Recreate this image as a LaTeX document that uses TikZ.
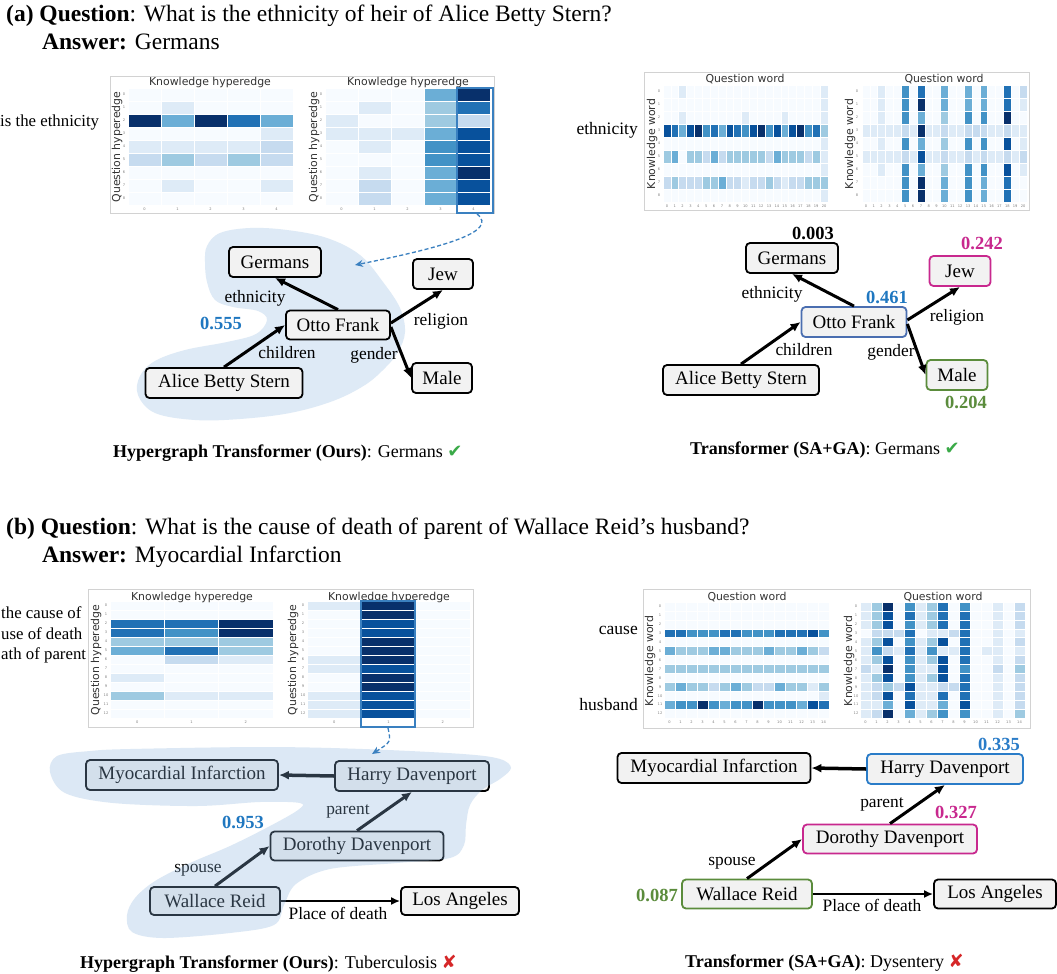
\documentclass[tikz,border=0pt]{standalone}
\usepackage{fontspec}
\setmainfont{Liberation Serif}
\newfontfamily\dvs{DejaVu Sans}
\usetikzlibrary{arrows.meta}
\definecolor{hb0}{HTML}{F7FBFF}
\definecolor{hb1}{HTML}{DEEBF7}
\definecolor{hb2}{HTML}{C6DBEF}
\definecolor{hb3}{HTML}{9ECAE1}
\definecolor{hb4}{HTML}{6BAED6}
\definecolor{hb5}{HTML}{4292C6}
\definecolor{hb6}{HTML}{2171B5}
\definecolor{hb7}{HTML}{08519C}
\definecolor{hb8}{HTML}{08306B}
\definecolor{nodefill}{HTML}{F2F2F2}
\definecolor{blobA}{HTML}{DEEAF6}
\definecolor{blobB}{HTML}{8EB6DE}
\definecolor{wblue}{HTML}{1F77C0}
\definecolor{ottoblue}{HTML}{4A6EB0}
\definecolor{harryblue}{HTML}{2A7CC8}
\definecolor{wmag}{HTML}{C8288E}
\definecolor{wgreen}{HTML}{5B8C3C}
\definecolor{hlblue}{HTML}{3A80C0}
\definecolor{chk}{HTML}{3AAA48}
\definecolor{crs}{HTML}{D62728}
\definecolor{axgray}{HTML}{333333}
\newcommand\drawhm[5]{%
  \foreach \hrow [count=\rr from 0] in {#5} {%
    \foreach \hv [count=\cc from 0] in \hrow {%
      \filldraw[fill=hb\hv, draw=white, line width=0.5pt] ({#1+\cc*#3},{#2+\rr*#4}) rectangle ++(#3,#4);
    }%
  }%
}
\begin{document}
\begin{tikzpicture}[x=1pt,y=-1pt,
  kg/.style={draw=black, line width=1.8pt, rounded corners=4pt, fill=nodefill, minimum height=30pt, inner sep=0pt, font=\rmfamily\mdseries\fontsize{19}{22}\selectfont},
  rel/.style={font=\rmfamily\fontsize{17.4}{20}\selectfont, inner sep=0pt},
  wt/.style={font=\rmfamily\bfseries\fontsize{18.5}{21}\selectfont, inner sep=0pt},
  kedge/.style={-{Latex[length=10pt,width=9pt]}, line width=3pt},
  axt/.style={font=\dvs\fontsize{10.9}{12}\selectfont, text=axgray, inner sep=0pt},
  tklab/.style={font=\dvs\fontsize{3.6}{4}\selectfont, text=gray, inner sep=0pt},
  panel/.style={draw=gray!35, line width=0.8pt, fill=white},
  hlbox/.style={draw=hlblue, line width=1.3pt},
  dasharr/.style={hlblue, dash pattern=on 4pt off 2.5pt, line width=1.3pt, -{Stealth[length=8pt,width=7pt]}},
  side/.style={font=\rmfamily\fontsize{17.5}{20}\selectfont, inner sep=0pt, anchor=east},
  sidel/.style={font=\rmfamily\fontsize{16.8}{20}\selectfont, inner sep=0pt, anchor=west},
  ttl/.style={font=\rmfamily\fontsize{23.5}{26}\selectfont, inner sep=0pt, anchor=base west},
  captxt/.style={font=\rmfamily\fontsize{18}{21}\selectfont, inner sep=0pt, anchor=base west}]
\useasboundingbox (0,0) rectangle (1057,974);
\fill[white] (0,0) rectangle (1057,974);

% ---------- titles ----------
\node[ttl] (tA) at (6,22) {\textbf{(a) Question}: What is the ethnicity of heir of Alice Betty Stern?};
\node[ttl] (aA) at (42,50) {\textbf{Answer:} Germans};
\node[ttl] (tB) at (6,534) {\textbf{(b) Question}: What is the cause of death of parent of Wallace Reid’s husband?};
\node[ttl] (aB) at (42,562) {\textbf{Answer:} Myocardial Infarction};

% ---------- side texts ----------
\node[sidel] (sA) at (0,122) {is the ethnicity};
\node[sidel] (sB1) at (1,613) {the cause of};
\node[sidel] (sB2) at (1,634) {use of death};
\node[sidel] (sB3) at (1,655) {ath of parent};
\node[side] (sC) at (638,130) {ethnicity};
\node[side] (sD) at (638,630) {cause};
\node[side] (sE) at (638,705) {husband};

% ---------- panel TL ----------
\draw[panel] (110,76) rectangle (494,213);
\drawhm{128}{88}{33}{13}{{0,0,0,0,0},{0,1,0,0,0},{8,4,8,6,4},{0,0,0,0,1},{1,1,1,1,2},{2,3,2,3,2},{0,0,0,0,0},{0,1,0,0,1},{0,0,0,0,0}}
\drawhm{325}{88}{33}{13}{{0,0,0,4,8},{0,1,0,3,6},{1,0,0,3,2},{1,1,1,4,7},{0,1,0,5,7},{0,0,0,5,7},{0,1,0,4,8},{0,2,0,4,7},{0,2,0,4,7}}
\node[axt] (tlt1) at (210,82) {Knowledge hyperedge};
\node[axt] (tlt2) at (408,82) {Knowledge hyperedge};
\node[axt, rotate=90] (tly1) at (117,147) {Question hyperedge};
\node[axt, rotate=90] (tly2) at (314,147) {Question hyperedge};
\foreach \i in {0,...,8} {\node[tklab] at (124,{94.5+13*\i}) {\i}; \node[tklab] at (321,{94.5+13*\i}) {\i};}
\foreach \i in {0,...,4} {\node[tklab] at ({144.5+33*\i},209) {\i}; \node[tklab] at ({341.5+33*\i},209) {\i};}
\draw[hlbox] (457,88) rectangle (493,213);

% ---------- panel TR ----------
\draw[panel] (644,72) rectangle (1029,210);
\drawhm{663}{85}{7.857}{13}{
{0,0,1,0,0,0,0,0,0,0,0,0,0,0,0,0,0,0,0,0,1},
{0,0,0,0,0,0,0,0,0,0,0,0,0,0,0,0,0,0,0,0,1},
{0,0,1,0,0,0,0,0,0,0,1,0,0,0,0,1,0,0,0,0,1},
{7,6,4,7,8,5,6,4,7,6,5,7,8,5,7,4,7,8,5,6,3},
{0,0,0,0,0,0,0,0,0,0,0,0,0,0,0,0,0,0,0,0,1},
{3,4,0,3,3,2,4,2,3,3,3,3,3,2,4,3,3,3,2,3,1},
{0,0,0,0,0,0,0,0,0,0,0,0,0,0,0,0,0,0,0,0,1},
{2,3,2,2,2,3,3,4,2,2,1,2,2,3,2,1,2,2,3,3,3},
{0,0,0,0,0,0,0,0,0,0,0,0,0,0,0,0,0,0,0,0,1}}
\drawhm{862}{85}{7.857}{13}{
{0,0,1,0,0,5,0,6,0,0,4,0,0,4,0,4,0,0,6,0,2},
{0,0,1,0,0,5,0,8,0,0,4,0,0,4,0,4,0,0,6,0,1},
{0,0,1,0,0,5,0,4,0,0,3,0,0,5,0,5,0,0,8,0,0},
{1,1,1,1,1,2,1,8,1,1,2,1,1,2,2,2,1,1,2,1,1},
{0,0,1,0,0,5,0,4,0,0,3,0,0,5,0,5,0,0,7,0,1},
{1,1,1,1,1,2,1,7,1,1,2,1,1,2,1,2,1,1,2,1,2},
{0,0,1,0,0,5,0,4,0,0,3,0,0,5,0,5,0,0,7,0,1},
{0,0,0,0,0,5,0,8,0,0,4,0,0,5,0,4,0,0,6,0,0},
{0,0,0,0,0,5,0,8,0,0,4,0,0,5,0,4,0,0,6,0,0}}
\node[axt] (trt1) at (745,79) {Question word};
\node[axt] (trt2) at (944,79) {Question word};
\node[axt, rotate=90] (try1) at (652,144) {Knowledge word};
\node[axt, rotate=90] (try2) at (850,144) {Knowledge word};
\foreach \i in {0,...,8} {\node[tklab] at (659,{91.5+13*\i}) {\i}; \node[tklab] at (857,{91.5+13*\i}) {\i};}
\foreach \i in {0,...,20} {\node[tklab] at ({666.9+7.857*\i},206) {\i}; \node[tklab] at ({865.9+7.857*\i},206) {\i};}

% ---------- panel BL ----------
\draw[panel] (88,589) rectangle (473,727);
\drawhm{110}{601}{54.33}{9}{{0,0,0},{0,0,0},{6,6,8},{6,5,8},{3,3,3},{4,6,3},{0,2,1},{0,0,0},{1,0,0},{0,0,0},{3,1,1},{0,0,0},{0,0,0}}
\drawhm{307}{601}{54.33}{9}{{1,8,0},{0,8,0},{0,7,0},{0,7,0},{0,8,0},{0,8,0},{1,8,0},{1,7,0},{0,8,0},{0,8,0},{1,7,0},{1,7,0},{1,7,0}}
\node[axt] (blt1) at (192,597) {Knowledge hyperedge};
\node[axt] (blt2) at (389,597) {Knowledge hyperedge};
\node[axt, rotate=90] (bly1) at (96,660) {Question hyperedge};
\node[axt, rotate=90] (bly2) at (293,660) {Question hyperedge};
\foreach \i in {0,...,12} {\node[tklab] at (106,{605.5+9*\i}) {\i}; \node[tklab] at (303,{605.5+9*\i}) {\i};}
\foreach \i in {0,...,2} {\node[tklab] at ({137.2+54.33*\i},722) {\i}; \node[tklab] at ({334.2+54.33*\i},722) {\i};}
\draw[hlbox] (361,601) rectangle (415,727);

% ---------- panel BR ----------
\draw[panel] (643,589) rectangle (1030,728);
\drawhm{664}{602}{11}{8.92}{
{0,0,0,0,0,0,0,0,0,0,0,0,0,0,0},
{0,0,0,0,0,0,0,0,0,0,0,0,0,0,0},
{0,0,0,0,0,0,0,0,0,0,0,0,0,0,0},
{6,6,5,5,5,6,6,5,5,5,6,6,6,7,5},
{0,0,0,0,0,0,0,0,0,0,0,0,0,0,0},
{4,3,3,3,4,4,3,3,3,4,3,3,4,3,2},
{0,0,0,0,0,0,0,0,0,0,0,0,0,0,0},
{3,3,3,3,3,3,3,3,3,3,3,3,3,3,3},
{0,0,0,0,0,0,0,0,0,0,0,0,0,0,0},
{3,4,3,3,2,3,4,3,2,2,4,3,3,1,3},
{0,0,0,0,0,0,0,0,0,0,0,0,0,0,1},
{4,5,5,8,5,4,5,5,8,5,5,5,4,7,6},
{0,0,0,0,0,0,0,0,0,0,0,0,0,0,0}}
\drawhm{860}{602}{11}{8.92}{
{1,3,8,0,5,1,3,6,0,5,0,0,1,0,2},
{1,3,7,0,6,1,3,6,0,6,0,0,1,0,2},
{1,3,7,0,5,1,3,6,0,6,0,0,1,0,2},
{0,2,2,2,6,0,1,1,2,6,0,0,1,0,1},
{1,3,7,0,5,1,3,7,0,6,0,0,1,0,2},
{1,5,2,1,6,1,5,1,1,6,0,1,1,0,1},
{1,3,7,0,5,1,3,7,0,6,0,0,1,0,2},
{2,1,8,0,5,1,1,7,0,5,0,0,2,0,3},
{1,3,7,0,5,1,3,7,0,6,0,0,1,0,2},
{1,2,3,2,7,1,1,2,2,6,0,0,1,0,2},
{1,2,7,0,6,1,1,6,0,6,0,0,1,0,2},
{1,1,4,0,7,1,1,4,0,7,0,0,1,0,2},
{1,2,8,0,4,1,3,5,0,5,0,0,1,0,3}}
\node[axt] (brt1) at (747,597) {Question word};
\node[axt] (brt2) at (943,597) {Question word};
\node[axt, rotate=90] (bry1) at (650,661) {Knowledge word};
\node[axt, rotate=90] (bry2) at (849,661) {Knowledge word};
\foreach \i in {0,...,12} {\node[tklab] at (660,{606.5+8.92*\i}) {\i}; \node[tklab] at (856,{606.5+8.92*\i}) {\i};}
\foreach \i in {0,...,14} {\node[tklab] at ({669.5+11*\i},722) {\i}; \node[tklab] at ({865.5+11*\i},722) {\i};}

% ---------- graph (a) left ----------
\fill[blobA] plot[smooth cycle, tension=0.6] coordinates {(205,262) (207,246) (220,233) (250,228) (287,230) (327,238) (360,255) (383,282) (400,308) (405,332) (398,352) (385,368) (365,385) (333,401) (290,413) (240,419) (195,420) (155,413) (138,395) (140,376) (155,361) (185,350) (227,342) (256,334) (267,320) (258,311) (233,307) (215,300) (207,282)};
\node[kg, minimum width=92pt] (ger) at (275,262) {Germans};
\node[kg, minimum width=60pt] (jew) at (443,274) {Jew};
\node[kg, minimum width=104pt, minimum height=29pt] (otto) at (338,325) {Otto Frank};
\node[kg, minimum width=157pt] (alice) at (224,383) {Alice Betty Stern};
\node[kg, minimum width=60pt] (male) at (442,378) {Male};
\draw[kedge] (otto.north) -- (ger.south);
\draw[kedge] (alice.north) -- (otto.west);
\draw[kedge] ([yshift=2pt]otto.east) -- (jew.south);
\draw[kedge] ([yshift=-2pt]otto.east) -- (male.west);
\node[rel] (lA1) at (255,298) {ethnicity};
\node[rel] (lA2) at (287,353) {children};
\node[rel] (lA3) at (441,321) {religion};
\node[rel] (lA4) at (374,355) {gender};
\node[wt, text=wblue] (wA1) at (221,323) {0.555};

% ---------- graph (a) right ----------
\node[kg, minimum width=92pt] (ger2) at (792,258) {Germans};
\node[kg, minimum width=61pt, draw=wmag] (jew2) at (960,271) {Jew};
\node[kg, minimum width=105pt, draw=ottoblue] (otto2) at (854,322) {Otto Frank};
\node[kg, minimum width=156pt] (alice2) at (741,380) {Alice Betty Stern};
\node[kg, minimum width=61pt, draw=wgreen] (male2) at (957,375) {Male};
\draw[kedge] (otto2.north) -- (ger2.south);
\draw[kedge] (alice2.north) -- (otto2.west);
\draw[kedge] ([yshift=2pt]otto2.east) -- (jew2.south);
\draw[kedge] ([yshift=-2pt]otto2.east) -- (male2.west);
\node[rel] (lB1) at (772,294) {ethnicity};
\node[rel] (lB2) at (804,350) {children};
\node[rel] (lB3) at (957,317) {religion};
\node[rel] (lB4) at (891,352) {gender};
\node[wt] (wB1) at (813,233) {0.003};
\node[wt, text=wmag] (wB2) at (982,243) {0.242};
\node[wt, text=wblue] (wB3) at (887,297) {0.461};
\node[wt, text=wgreen] (wB4) at (966,402) {0.204};

% ---------- graph (b) left ----------
\node[kg, minimum width=192pt] (myo) at (182,775) {Myocardial Infarction};
\node[kg, minimum width=154pt] (harry) at (412,776) {Harry Davenport};
\node[kg, minimum width=173pt, minimum height=29pt] (dor) at (357,846) {Dorothy Davenport};
\node[kg, minimum width=130pt, minimum height=28pt] (wal) at (215,901) {Wallace Reid};
\node[kg, minimum width=118pt, minimum height=28pt] (la) at (460,901) {Los Angeles};
\draw[kedge, line width=3.5pt] (harry.west) -- (myo.east);
\draw[kedge] (dor.north) -- (harry.south);
\draw[kedge] (wal.north) -- (dor.west);
\draw[-{Latex[length=9pt,width=8pt]}, line width=2pt] (wal.east) -- (la.west);
\node[rel] (lC1) at (348,811) {parent};
\node[rel] (lC2) at (198,870) {spouse};
\node[rel] (lC3) at (338,913) {Place of death};
\fill[blobB, opacity=0.3] plot[smooth cycle, tension=0.55] coordinates {(50,772) (57,756) (90,751) (130,749) (263,747) (363,749) (463,754) (500,759) (511,768) (500,779) (482,790) (470,805) (466,825) (464,845) (450,858) (397,863) (330,869) (296,884) (284,905) (274,925) (230,933) (163,938) (132,932) (127,915) (135,898) (155,881) (190,863) (230,846) (270,826) (298,810) (300,803) (260,802) (197,806) (113,803) (65,793)};
\node[wt, text=wblue] (wC1) at (243,822) {0.953};

% ---------- graph (b) right ----------
\node[kg, minimum width=193pt] (myo2) at (714,768) {Myocardial Infarction};
\node[kg, minimum width=156pt, draw=harryblue] (harry2) at (945,769) {Harry Davenport};
\node[kg, minimum width=174pt, minimum height=29pt, draw=wmag] (dor2) at (890,839) {Dorothy Davenport};
\node[kg, minimum width=130pt, minimum height=29pt, draw=wgreen] (wal2) at (747,894) {Wallace Reid};
\node[kg, minimum width=122pt, minimum height=29pt] (la2) at (995,894) {Los Angeles};
\draw[kedge, line width=3.5pt] (harry2.west) -- (myo2.east);
\draw[kedge] (dor2.north) -- (harry2.south);
\draw[kedge] (wal2.north) -- (dor2.west);
\draw[-{Latex[length=9pt,width=8pt]}, line width=2pt] (wal2.east) -- (la2.west);
\node[rel] (lD1) at (882,804) {parent};
\node[rel] (lD2) at (732,863) {spouse};
\node[rel] (lD3) at (872,905) {Place of death};
\node[wt, text=harryblue] (wD1) at (999,744) {0.335};
\node[wt, text=wmag] (wD2) at (956,812) {0.327};
\node[wt, text=wgreen] (wD3) at (657,895) {0.087};

% ---------- dashed pointers ----------
\coordinate (hlAbot) at (477,214);
\coordinate (hlAend) at (355,265);
\draw[dasharr] (hlAbot) .. controls (500,232) and (440,248) .. (hlAend);
\coordinate (hlBbot) at (388,728);
\coordinate (hlBend) at (372,754);
\draw[dasharr] (hlBbot) .. controls (391,742) .. (hlBend);

% ---------- captions ----------
\node[captxt] (cA1) at (113,457) {\textbf{Hypergraph Transformer (Ours)}: Germans {\dvs\color{chk}✔}};
\node[captxt] (cA2) at (690,454) {\textbf{Transformer (SA+GA)}: Germans {\dvs\color{chk}✔}};
\node[captxt] (cB1) at (80,968) {\textbf{Hypergraph Transformer (Ours)}: Tuberculosis {\dvs\color{crs}✘}};
\node[captxt] (cB2) at (685,967) {\textbf{Transformer (SA+GA)}: Dysentery {\dvs\color{crs}✘}};
\end{tikzpicture}
\end{document}
